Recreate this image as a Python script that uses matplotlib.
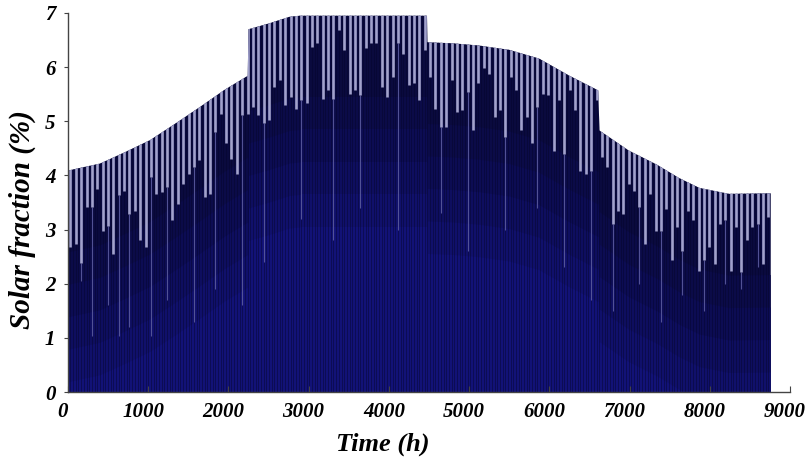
import numpy as np
import matplotlib
matplotlib.use("Agg")
import matplotlib.pyplot as plt
from matplotlib.patches import Polygon
from matplotlib.transforms import ScaledTranslation

# ---- data ----
# daily-peak envelope of the hourly solar fraction (%)
env_hours = [0, 400, 710, 1020, 1330, 1640, 1950, 2240, 2250, 2510, 2760, 2890,
             4475, 4480, 4800, 5120, 5500, 5870, 6240, 6610, 6625, 6990, 7340,
             7620, 7870, 8240, 8760]
env_values = [4.09, 4.22, 4.43, 4.65, 4.95, 5.26, 5.58, 5.84, 6.70, 6.81, 6.93, 6.95,
              6.95, 6.46, 6.44, 6.40, 6.32, 6.16, 5.85, 5.57, 4.83, 4.46, 4.20,
              3.95, 3.77, 3.66, 3.67]

# lower ends of the light (low-value) streaks, evenly spread over the year
streak_bottoms = [
    2.67, 2.73, 2.39, 3.41, 3.41, 3.75, 2.98, 3.07, 2.55, 3.63, 3.72, 3.29, 3.35, 2.80,
    2.67, 3.97, 3.66, 3.69, 3.78, 3.17, 3.48, 3.85,
    4.03, 4.15, 4.28, 3.60, 3.66, 4.80, 5.14, 4.59, 4.31, 4.03, 5.11, 5.14, 5.26, 5.11,
    4.96, 5.02, 5.64, 5.76, 5.30, 5.45, 5.23, 5.39, 5.33,
    6.38, 6.44, 5.42, 5.57, 5.42, 6.69, 6.31, 5.51, 5.57, 5.48, 6.35, 6.44, 6.44, 5.64,
    5.45, 5.82, 6.44, 6.25, 5.67, 5.70, 5.39, 6.31,
    5.82, 5.23, 4.89, 4.89, 5.76, 5.17, 5.20, 5.54, 4.83, 5.70, 5.98, 5.88, 5.08, 5.20,
    4.71, 5.82, 5.57, 4.83, 5.08, 4.59, 5.26,
    5.51, 5.48, 4.46, 5.39, 4.40, 5.57, 5.20, 4.09, 4.03, 4.09, 5.39, 4.34, 4.15, 3.10,
    3.35, 3.29, 3.85, 3.72, 3.41, 2.73, 3.66, 2.98,
    2.98, 3.38, 2.43, 3.04, 2.61, 3.35, 3.17, 2.24, 2.43, 2.67, 2.36, 3.10, 3.17, 2.24,
    3.04, 2.21, 2.80, 3.04, 3.10, 2.36, 3.23,
]

# some streaks continue deeper as faint lines
deep_index = [2, 4, 7, 9, 11, 15, 18, 23, 27, 32, 36, 43, 49, 54, 61, 69, 74, 81,
              87, 92, 97, 101, 106, 110, 114, 118, 122, 125, 128]
deep_bottoms = [2.05, 1.04, 1.6, 1.04, 1.2, 1.04, 1.7, 1.3, 1.9, 1.6, 2.4, 3.2, 2.8,
                3.4, 3.0, 3.3, 2.6, 3.0, 3.4, 2.3, 1.7, 1.5, 2.0, 1.3, 1.8, 1.5,
                2.0, 1.9, 2.3]

x_ticks = [0, 1000, 2000, 3000, 4000, 5000, 6000, 7000, 8000, 9000]
y_ticks = [0, 1, 2, 3, 4, 5, 6, 7]
year_hours = 8760

# ---- drawing ----
font = dict(family="Liberation Serif", weight="bold", style="italic")

fig = plt.figure(figsize=(8.11, 4.62), dpi=100)
ax = fig.add_axes([68 / 811, 70 / 462, 722 / 811, 379 / 462])
ax.set_xlim(0, 9000)
ax.set_ylim(0, 7)

env_h = np.array(env_hours, dtype=float)
env_v = np.array(env_values, dtype=float)

verts = list(zip(env_h, env_v)) + [(env_h[-1], 0.0), (env_h[0], 0.0)]
area = Polygon(verts, closed=True, facecolor="#0a0a3e", edgecolor="none", zorder=1)
ax.add_patch(area)

# deeper parts are a bit bluer
for depth, col in [(1.5, "#0b0b48"), (2.1, "#0c0c53"), (2.7, "#0e0e5f"),
                   (3.3, "#10106b"), (3.9, "#121277")]:
    f = ax.fill_between(env_h, -1, env_v - depth, color=col, lw=0, zorder=1.2)
    f.set_clip_path(area)

streak_x = np.linspace(30, year_hours - 30, len(streak_bottoms))
sb = np.array(streak_bottoms)
gap = streak_x[1] - streak_x[0]

# fine dark texture of the hourly lines (between and under the streaks)
tex = ax.vlines(np.concatenate([streak_x, streak_x[:-1] + 0.5 * gap]), 0, 7.5,
                colors="#05052a", lw=0.7, alpha=0.45, zorder=1.5)
tex.set_clip_path(area)

deep = ax.vlines(streak_x[deep_index], deep_bottoms, sb[deep_index],
                 colors="#5a5aa0", lw=0.8, alpha=0.9, zorder=2)
deep.set_clip_path(area)

st = ax.vlines(streak_x, sb, 7.5, colors="#a2a2cc", lw=1.9, zorder=3)
st.set_clip_path(area)

# axes styling
for s in ["top", "right"]:
    ax.spines[s].set_visible(False)
for s in ["left", "bottom"]:
    ax.spines[s].set_color("#444444")
    ax.spines[s].set_linewidth(1.0)
    ax.spines[s].set_zorder(5)

ax.set_xticks(x_ticks)
ax.set_yticks(y_ticks)
ax.set_xticklabels([str(t) for t in x_ticks], fontdict=dict(font, size=15))
ax.set_yticklabels([str(t) for t in y_ticks], fontdict=dict(font, size=15))
ax.tick_params(axis="x", direction="in", length=4, color="#444444", pad=7)
ax.tick_params(axis="y", direction="out", length=3, color="#444444", pad=6)
shift = ScaledTranslation(-5 / 100, 0, fig.dpi_scale_trans)
for lab in ax.get_xticklabels():
    lab.set_transform(lab.get_transform() + shift)

ax.set_xlabel("Time (h)", fontdict=dict(font, size=19))
ax.set_ylabel("Solar fraction (%)", fontdict=dict(font, size=21))
ax.xaxis.set_label_coords(0.436, -0.108)
ax.yaxis.set_label_coords(-0.045, 0.456)

fig.savefig("out.png", dpi=100)
